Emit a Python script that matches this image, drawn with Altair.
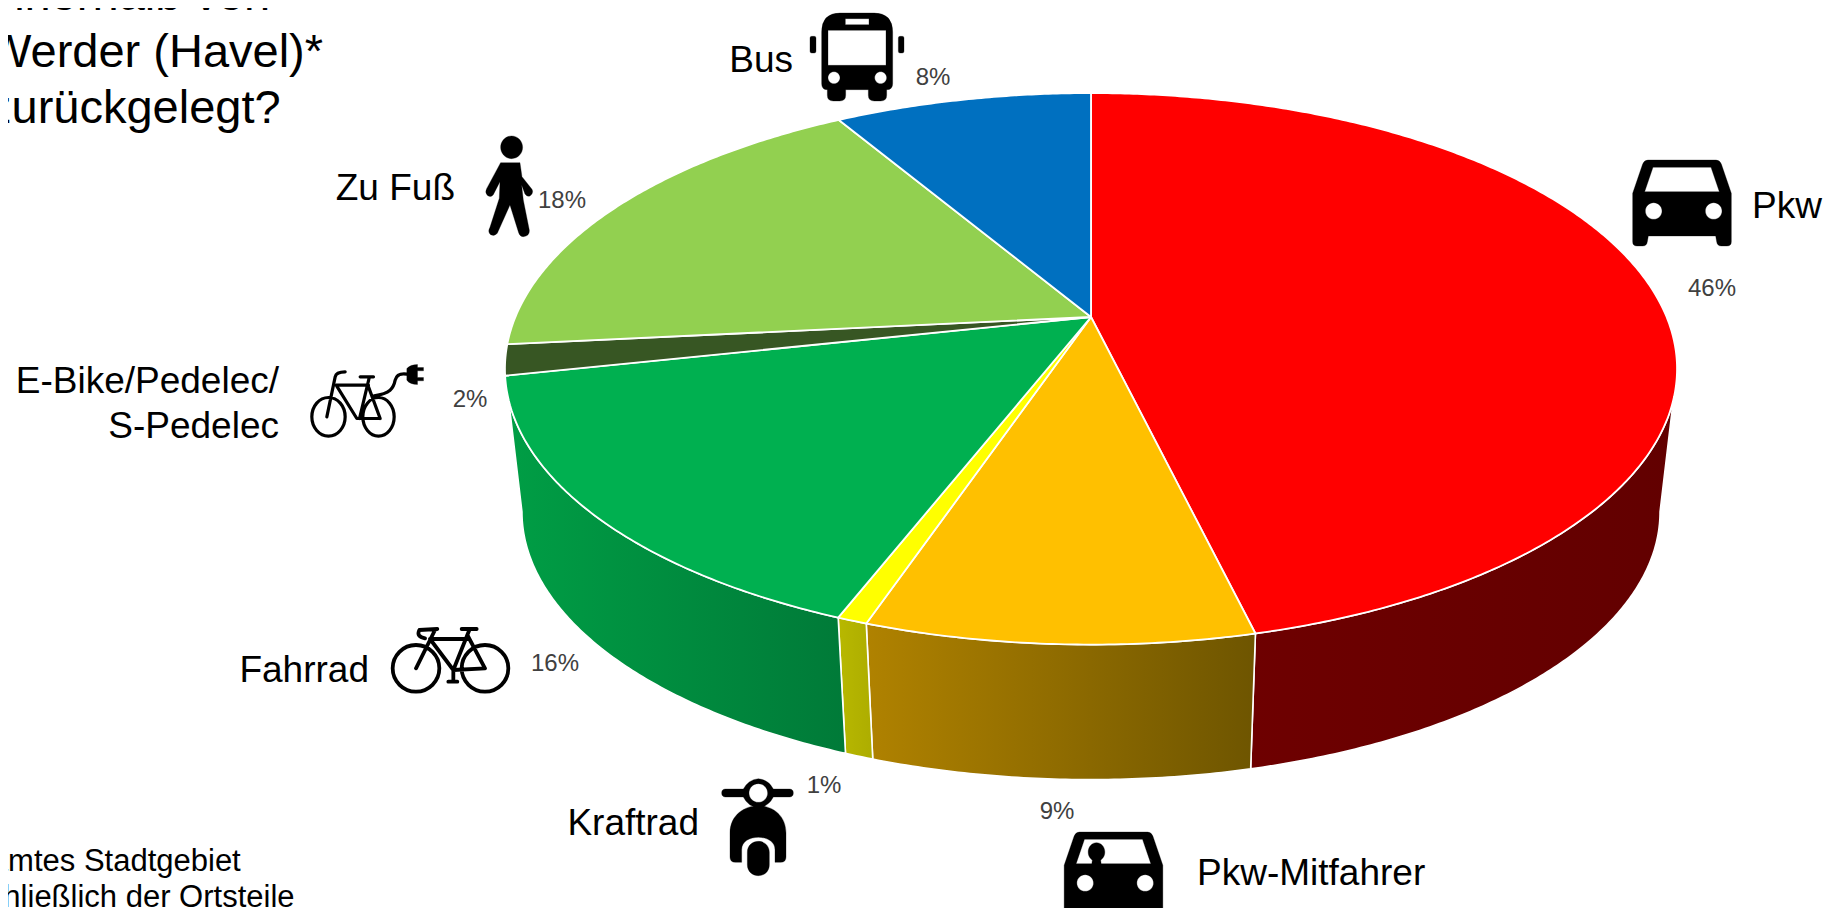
import math, re
import altair as alt
import pandas as pd

# ---------- values ----------
categories = ["Pkw", "Pkw-Mitfahrer", "Kraftrad", "Fahrrad", "E-Bike/Pedelec/S-Pedelec", "Zu Fuß", "Bus"]
shares = [46.25, 8.95, 0.7, 15.7, 1.8, 18.1, 8.5]
pct_labels = ["46%", "9%", "1%", "16%", "2%", "18%", "8%"]
top_colors = ["#FF0000", "#FFC000", "#FFFF00", "#00B050", "#375623", "#92D050", "#0070C0"]

# ---------- 3D pie camera ----------
APEX = (1091.0, 317.0)
A, B, P = 575.6, 266.0, 0.188
BOTTOM_SCALE, DEPTH = 0.971, 144.5


def rim(theta, bottom=False):
    t = math.radians(theta)
    X, Y = math.sin(t), -math.cos(t)
    w = 1 - P * Y
    x, y = A * X / w, B * Y / w
    if bottom:
        return [round(APEX[0] + BOTTOM_SCALE * x, 2), round(APEX[1] + DEPTH + BOTTOM_SCALE * y, 2)]
    return [round(APEX[0] + x, 2), round(APEX[1] + y, 2)]


def arc_steps(t0, t1):
    n = max(2, int(abs(t1 - t0) * 2))
    return [t0 + (t1 - t0) * i / n for i in range(n + 1)]


edges = [0.0]
for s in shares:
    edges.append(edges[-1] + s * 3.6)

VIS0, VIS1 = 90 + math.degrees(math.asin(P)), 270 - math.degrees(math.asin(P))

top_features, wall_features = [], []
for i, name in enumerate(categories):
    t0, t1 = edges[i], edges[i + 1]
    ring = [list(APEX)] + [rim(t) for t in arc_steps(t0, t1)] + [list(APEX)]
    top_features.append({"type": "Feature", "properties": {"name": name},
                         "geometry": {"type": "Polygon", "coordinates": [ring]}})
    a, b = max(t0, VIS0), min(t1, VIS1)
    if i == 3:
        b = VIS1
    if b > a and i < 4:
        steps = arc_steps(a, b)
        ring = [rim(t) for t in steps] + [rim(t, True) for t in reversed(steps)]
        ring.append(ring[0])
        wall_features.append({"type": "Feature", "properties": {"name": name},
                              "geometry": {"type": "Polygon", "coordinates": [ring]}})

wall_gradients = {
    "Pkw": ("#6E0000", "#620000"),
    "Pkw-Mitfahrer": ("#B08200", "#6E5500"),
    "Kraftrad": ("#B8B800", "#ADAD00"),
    "Fahrrad": ("#009E45", "#007A38"),
}

proj = dict(type="identity", scale=1, translate=[-8, -8])
layers = []
for feat in wall_features:
    left, right = wall_gradients[feat["properties"]["name"]]
    grad = alt.Gradient(gradient="linear", x1=0, x2=1, y1=0, y2=0,
                        stops=[alt.GradientStop(color=left, offset=0), alt.GradientStop(color=right, offset=1)])
    layers.append(alt.Chart(alt.InlineData(values=[feat])).mark_geoshape(
        fill=grad, stroke="white", strokeWidth=1.6, strokeJoin="round").project(**proj))

layers.append(alt.Chart(alt.InlineData(values=top_features)).mark_geoshape(
    stroke="white", strokeWidth=1.8, strokeJoin="round").encode(
    color=alt.Color("properties.name:N", legend=None,
                    scale=alt.Scale(domain=categories, range=top_colors))).project(**proj))

W, H = 1816, 900
xs = alt.Scale(domain=[8, 8 + W], range=[0, W])
ys = alt.Scale(domain=[8, 8 + H], range=[0, H])
X_ENC = alt.X("x:Q", scale=xs, axis=None)
Y_ENC = alt.Y("y:Q", scale=ys, axis=None)

# ---------- icons: drawn in the 3x zoom units, normalised to vega's unit symbol box ----------
BOX = 130.0


def norm(path, cx, cy):
    count = [0]

    def rep(m):
        v = float(m.group(0))
        c = cx if count[0] % 2 == 0 else cy
        count[0] += 1
        return f"{((v - c) / 3) / (BOX / 2):.4f}"

    return re.sub(r"-?\d+(?:\.\d+)?", rep, path)


def ell(cx, cy, rx, ry, cw=True):
    k = 0.5523
    sx = rx * k
    sy = ry * k
    if cw:
        return (f"M{cx} {cy-ry} C{cx+sx} {cy-ry} {cx+rx} {cy-sy} {cx+rx} {cy} "
                f"C{cx+rx} {cy+sy} {cx+sx} {cy+ry} {cx} {cy+ry} "
                f"C{cx-sx} {cy+ry} {cx-rx} {cy+sy} {cx-rx} {cy} "
                f"C{cx-rx} {cy-sy} {cx-sx} {cy-ry} {cx} {cy-ry} Z ")
    return (f"M{cx} {cy-ry} C{cx-sx} {cy-ry} {cx-rx} {cy-sy} {cx-rx} {cy} "
            f"C{cx-rx} {cy+sy} {cx-sx} {cy+ry} {cx} {cy+ry} "
            f"C{cx+sx} {cy+ry} {cx+rx} {cy+sy} {cx+rx} {cy} "
            f"C{cx+rx} {cy-sy} {cx+sx} {cy-ry} {cx} {cy-ry} Z ")


car_body = ("M205 90 L409 90 Q420 90 425 102 L455 190 L455 335 Q455 348 442 348 L425 348 Q413 348 411 335 L408 318 "
            "L206 318 L203 335 Q201 348 189 348 L172 348 Q159 348 159 335 L159 190 L189 102 Q194 90 205 90 Z "
            "M220 112 L195 185 L419 185 L394 112 Z ")
car_lights = ell(222, 243, 25, 25, False) + ell(402, 243, 25, 25, False)
car_path = car_body + car_lights
car2_path = car_path + ell(256, 150, 25, 28, True) + "M244 170 L268 170 L270 185 L242 185 Z "

bus_path = ("M420 38 L522 38 Q578 38 578 95 L578 250 Q578 268 560 268 L560 285 Q560 302 542 302 L523 302 Q505 302 505 285 "
            "L505 268 L437 268 L437 285 Q437 302 419 302 L400 302 Q382 302 382 285 L382 268 Q365 268 365 250 L365 95 Q365 38 420 38 Z "
            "M436 55 L436 73 L507 73 L507 55 Z M384 90 L384 195 L558 195 L558 90 Z "
            + ell(402, 232, 18, 18, False) + ell(542, 232, 18, 18, False)
            + "M335 108 L343 108 Q348 108 348 113 L348 153 Q348 158 343 158 L335 158 Q330 158 330 153 L330 113 Q330 108 335 108 Z "
            + "M600 108 L607 108 Q612 108 612 113 L612 153 Q612 158 607 158 L600 158 Q595 158 595 153 L595 113 Q595 108 600 108 Z ")

walker_path = (ell(125, 52, 33, 34, True)
               + "M92 98 L150 98 L156 140 L186 178 Q192 190 180 198 Q172 202 165 192 L155 165 L160 210 L178 300 "
               + "Q180 318 160 320 Q150 320 146 308 L120 225 L82 310 Q74 320 62 314 Q52 306 60 292 L88 205 "
               + "L90 155 L70 194 Q62 204 52 196 Q44 188 50 176 Z ")

scooter_path = ("M35 70 Q35 58 47 58 L100 58 Q115 30 145 27 Q175 30 190 58 L238 58 Q250 58 250 70 Q250 82 238 82 L190 82 "
                "Q175 112 145 113 Q115 112 100 82 L47 82 Q35 82 35 70 Z "
                + ell(145, 70, 28, 28, False)
                + "M60 190 C60 135 105 108 145 108 C185 108 228 135 228 190 L228 262 Q228 278 212 278 L195 278 L195 240 "
                  "C195 215 170 203 145 203 C120 203 95 215 95 240 L95 278 L76 278 Q60 278 60 262 Z "
                  "M112 248 C112 228 127 215 145 215 C163 215 178 228 178 248 L178 285 C178 305 163 318 145 318 "
                  "C127 318 112 305 112 285 Z ")

bike_path = (ell(108, 160, 70, 70) + ell(315, 160, 70, 70)
             + "M108 160 L165 45 M172 42 L118 45 Q108 65 135 70 "
             + "M150 72 L265 72 M150 72 L220 165 L315 160 M268 45 L220 165 L220 200 M205 200 L232 200 "
             + "M262 60 L315 160 M245 42 L290 42 ")

ebike_path = (ell(85, 185, 50, 58) + ell(235, 185, 47, 58)
              + "M80 185 L105 65 Q108 50 135 50 M108 90 L205 90 M108 90 L170 190 L240 190 "
              + "M207 68 L178 190 M205 95 L240 190 M180 65 L220 65 "
              + "M222 122 C270 115 280 100 285 75 C290 55 305 55 320 57 ")
plug_path = ("M320 40 Q330 28 352 28 L352 37 L370 37 L370 47 L352 47 L352 67 L370 67 L370 77 L352 77 L352 88 "
             "Q330 88 320 75 Z ")

icon_rows = [
    ("Pkw", car_path, (307, 219), (1682, 203), True),
    ("Pkw-Mitfahrer", car2_path, (307, 219), (1113.5, 875), True),
    ("Bus", bus_path, (471, 170), (857, 57), True),
    ("Zu Fuß", walker_path, (118, 169), (509.3, 186.3), True),
    ("Kraftrad", scooter_path, (142.5, 172), (757.5, 827), True),
    ("Fahrrad", bike_path, (211.5, 139.5), (450.5, 661.5), False),
    ("E-Bike", ebike_path, (202, 136), (367.5, 400.5), False),
    ("E-Bike-Stecker", plug_path, (202, 136), (367.5, 400.5), True),
]
for name, path, (cx, cy), (px, py), filled in icon_rows:
    shape = norm(path, cx, cy)
    df = pd.DataFrame({"name": [name], "x": [px], "y": [py]})
    if filled:
        m = alt.Chart(df).mark_point(shape=shape, size=BOX ** 2, filled=True, fill="black", stroke="black",
                                     strokeWidth=0.3, opacity=1)
    else:
        m = alt.Chart(df).mark_point(shape=shape, size=BOX ** 2, filled=False, stroke="black",
                                     strokeWidth=3.8 if name == "Fahrrad" else 3.2, strokeCap="round",
                                     strokeJoin="round", opacity=1)
    layers.append(m.encode(x=X_ENC, y=Y_ENC))

# ---------- text ----------
FONT = "Liberation Sans"


def text_layer(rows, size, color, align):
    df = pd.DataFrame(rows, columns=["text", "x", "y"])
    return alt.Chart(df).mark_text(font=FONT, fontSize=size, color=color, align=align, baseline="alphabetic").encode(
        x=X_ENC, y=Y_ENC, text="text:N")


title_lines = ["innerhalb von", "Werder (Havel)*", "zurückgelegt?"]
note_lines = ["Gesamtes Stadtgebiet", "einschließlich der Ortsteile"]
layers.append(text_layer(list(zip(title_lines, [-12, -13, -12], [10, 67, 123])), 47, "#000000", "left"))
layers.append(text_layer(list(zip(note_lines, [-66, -69], [871, 907])), 31, "#000000", "left"))
layers.append(text_layer([("Pkw", 1752, 218), ("Pkw-Mitfahrer", 1197, 885)], 37, "#000000", "left"))
layers.append(text_layer([("Bus", 793, 72), ("Zu Fuß", 455, 200), ("E-Bike/Pedelec/", 279, 393),
                          ("S-Pedelec", 279, 438), ("Fahrrad", 369, 682), ("Kraftrad", 699, 835)],
                         37, "#000000", "right"))
pct_x = [1712, 1057, 824, 555, 470, 562, 933]
pct_y = [296, 819, 793, 671, 407, 208, 85]
layers.append(text_layer(list(zip(pct_labels, pct_x, pct_y)), 24, "#404040", "center"))

chart = alt.layer(*layers).properties(
    width=W, height=H, padding=0, autosize=alt.AutoSizeParams(type="none")
).configure_view(stroke=None)

chart.save("out.html", embed_options={"renderer": "svg", "actions": False})
